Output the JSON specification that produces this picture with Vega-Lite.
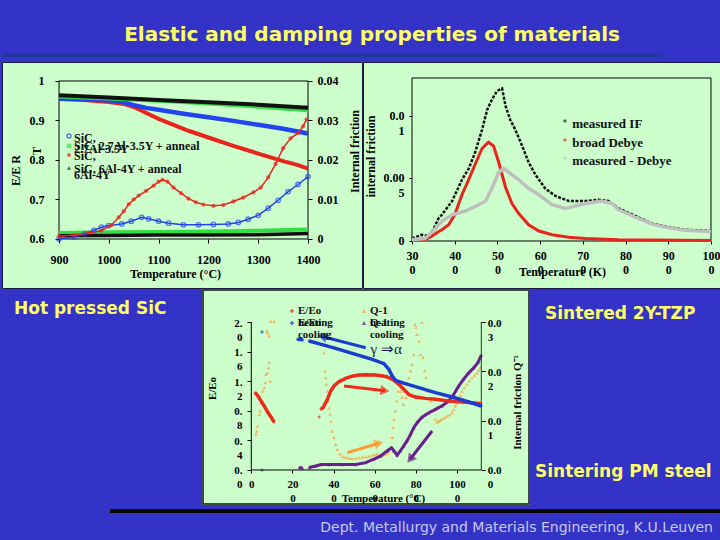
{
"$schema":"https://vega.github.io/schema/vega-lite/v6.json",
"background":"#3333c8",
"padding":0,
"spacing":0,
"config":{
 "view":{"stroke":null},
 "axis":{"grid":false,"domain":false,"labelFont":"Liberation Serif","titleFont":"Liberation Serif","labelFontWeight":"bold","titleFontWeight":"bold","labelColor":"#000","titleColor":"#000","tickColor":"#000","labelOverlap":false,"labelFlush":false},
 "text":{"font":"Liberation Serif","fontWeight":"bold","color":"#111"}
},
"datasets":{
 "p1E":[{"T":900,"s":"k","E":0.964},{"T":1000,"s":"k","E":0.958},{"T":1100,"s":"k","E":0.952},{"T":1200,"s":"k","E":0.946},{"T":1300,"s":"k","E":0.94},{"T":1400,"s":"k","E":0.932},
 {"T":900,"s":"g","E":0.961},{"T":1000,"s":"g","E":0.956},{"T":1100,"s":"g","E":0.95},{"T":1200,"s":"g","E":0.943},{"T":1300,"s":"g","E":0.935},{"T":1400,"s":"g","E":0.926},
 {"T":900,"s":"b","E":0.955},{"T":950,"s":"b","E":0.954},{"T":1000,"s":"b","E":0.951},{"T":1030,"s":"b","E":0.946},{"T":1050,"s":"b","E":0.939},{"T":1075,"s":"b","E":0.932},{"T":1100,"s":"b","E":0.927},{"T":1150,"s":"b","E":0.917},{"T":1200,"s":"b","E":0.908},{"T":1250,"s":"b","E":0.899},{"T":1300,"s":"b","E":0.889},{"T":1350,"s":"b","E":0.879},{"T":1400,"s":"b","E":0.867},
 {"T":900,"s":"r","E":0.955},{"T":950,"s":"r","E":0.952},{"T":1000,"s":"r","E":0.947},{"T":1030,"s":"r","E":0.942},{"T":1050,"s":"r","E":0.934},{"T":1070,"s":"r","E":0.922},{"T":1100,"s":"r","E":0.904},{"T":1130,"s":"r","E":0.889},{"T":1160,"s":"r","E":0.874},{"T":1200,"s":"r","E":0.857},{"T":1250,"s":"r","E":0.836},{"T":1300,"s":"r","E":0.816},{"T":1350,"s":"r","E":0.797},{"T":1380,"s":"r","E":0.787},{"T":1400,"s":"r","E":0.778}],
 "p1F":[{"T":900,"s":"r","F":0.0007},{"T":930,"s":"r","F":0.001},{"T":960,"s":"r","F":0.0016},{"T":985,"s":"r","F":0.0021},{"T":1005,"s":"r","F":0.0035},{"T":1020,"s":"r","F":0.0055},{"T":1030,"s":"r","F":0.007},{"T":1040,"s":"r","F":0.0088},{"T":1050,"s":"r","F":0.01},{"T":1060,"s":"r","F":0.011},{"T":1075,"s":"r","F":0.0122},{"T":1090,"s":"r","F":0.0135},{"T":1100,"s":"r","F":0.0145},{"T":1108,"s":"r","F":0.015},{"T":1118,"s":"r","F":0.0145},{"T":1130,"s":"r","F":0.013},{"T":1145,"s":"r","F":0.0116},{"T":1160,"s":"r","F":0.0102},{"T":1175,"s":"r","F":0.0093},{"T":1190,"s":"r","F":0.0087},{"T":1210,"s":"r","F":0.0084},{"T":1230,"s":"r","F":0.0086},{"T":1250,"s":"r","F":0.0095},{"T":1270,"s":"r","F":0.0105},{"T":1290,"s":"r","F":0.0118},{"T":1305,"s":"r","F":0.013},{"T":1320,"s":"r","F":0.0156},{"T":1335,"s":"r","F":0.019},{"T":1350,"s":"r","F":0.023},{"T":1365,"s":"r","F":0.0255},{"T":1380,"s":"r","F":0.0268},{"T":1390,"s":"r","F":0.0285},{"T":1397,"s":"r","F":0.0303},
 {"T":900,"s":"b","F":0.0},{"T":930,"s":"b","F":0.0005},{"T":952,"s":"b","F":0.0013},{"T":970,"s":"b","F":0.0022},{"T":985,"s":"b","F":0.003},{"T":1000,"s":"b","F":0.0034},{"T":1026,"s":"b","F":0.0038},{"T":1045,"s":"b","F":0.0045},{"T":1066,"s":"b","F":0.0055},{"T":1080,"s":"b","F":0.0051},{"T":1100,"s":"b","F":0.0045},{"T":1120,"s":"b","F":0.004},{"T":1150,"s":"b","F":0.0036},{"T":1180,"s":"b","F":0.0036},{"T":1210,"s":"b","F":0.0037},{"T":1240,"s":"b","F":0.0038},{"T":1260,"s":"b","F":0.0042},{"T":1280,"s":"b","F":0.005},{"T":1300,"s":"b","F":0.006},{"T":1320,"s":"b","F":0.0078},{"T":1340,"s":"b","F":0.0098},{"T":1360,"s":"b","F":0.012},{"T":1380,"s":"b","F":0.0138},{"T":1400,"s":"b","F":0.0158},
 {"T":900,"s":"g","F":0.0015},{"T":1000,"s":"g","F":0.0017},{"T":1100,"s":"g","F":0.0018},{"T":1200,"s":"g","F":0.0019},{"T":1300,"s":"g","F":0.0021},{"T":1400,"s":"g","F":0.0024},
 {"T":900,"s":"k","F":0.0008},{"T":1000,"s":"k","F":0.0009},{"T":1100,"s":"k","F":0.001},{"T":1200,"s":"k","F":0.001},{"T":1300,"s":"k","F":0.0011},{"T":1400,"s":"k","F":0.0014}],
 "p2":[{"K":300,"s":"m","IF":0.0002},{"K":323,"s":"m","IF":0.0005},{"K":340,"s":"m","IF":0.0004},{"K":350,"s":"m","IF":0.0009},{"K":362,"s":"m","IF":0.0018},{"K":370,"s":"m","IF":0.0021},{"K":394,"s":"m","IF":0.0032},{"K":417,"s":"m","IF":0.0049},{"K":433,"s":"m","IF":0.0058},{"K":448,"s":"m","IF":0.0071},{"K":464,"s":"m","IF":0.0089},{"K":476,"s":"m","IF":0.0105},{"K":487,"s":"m","IF":0.0113},{"K":499,"s":"m","IF":0.012},{"K":511,"s":"m","IF":0.0122},{"K":519,"s":"m","IF":0.0108},{"K":530,"s":"m","IF":0.0097},{"K":542,"s":"m","IF":0.0089},{"K":558,"s":"m","IF":0.0076},{"K":573,"s":"m","IF":0.0063},{"K":589,"s":"m","IF":0.0053},{"K":612,"s":"m","IF":0.0042},{"K":636,"s":"m","IF":0.0036},{"K":667,"s":"m","IF":0.0032},{"K":706,"s":"m","IF":0.0032},{"K":737,"s":"m","IF":0.0033},{"K":760,"s":"m","IF":0.0032},{"K":784,"s":"m","IF":0.0026},{"K":823,"s":"m","IF":0.002},{"K":862,"s":"m","IF":0.0014},{"K":901,"s":"m","IF":0.0011},{"K":940,"s":"m","IF":0.0009},{"K":1000,"s":"m","IF":0.0008},
 {"K":300,"s":"d","IF":0.0001},{"K":330,"s":"d","IF":0.0001},{"K":347,"s":"d","IF":0.0004},{"K":360,"s":"d","IF":0.0007},{"K":370,"s":"d","IF":0.0009},{"K":386,"s":"d","IF":0.0013},{"K":400,"s":"d","IF":0.0021},{"K":417,"s":"d","IF":0.0037},{"K":430,"s":"d","IF":0.0047},{"K":450,"s":"d","IF":0.0063},{"K":464,"s":"d","IF":0.0074},{"K":479,"s":"d","IF":0.0079},{"K":491,"s":"d","IF":0.0076},{"K":503,"s":"d","IF":0.0063},{"K":519,"s":"d","IF":0.0043},{"K":534,"s":"d","IF":0.003},{"K":550,"s":"d","IF":0.0022},{"K":573,"s":"d","IF":0.0013},{"K":597,"s":"d","IF":0.0008},{"K":628,"s":"d","IF":0.0005},{"K":667,"s":"d","IF":0.0003},{"K":706,"s":"d","IF":0.0002},{"K":784,"s":"d","IF":0.0001},{"K":1000,"s":"d","IF":0.00005},
 {"K":300,"s":"g","IF":0.0001},{"K":330,"s":"g","IF":0.0002},{"K":350,"s":"g","IF":0.0008},{"K":370,"s":"g","IF":0.0016},{"K":394,"s":"g","IF":0.0021},{"K":425,"s":"g","IF":0.0024},{"K":456,"s":"g","IF":0.0029},{"K":472,"s":"g","IF":0.0032},{"K":487,"s":"g","IF":0.0042},{"K":503,"s":"g","IF":0.0055},{"K":515,"s":"g","IF":0.0058},{"K":534,"s":"g","IF":0.0053},{"K":550,"s":"g","IF":0.0049},{"K":573,"s":"g","IF":0.0042},{"K":597,"s":"g","IF":0.0037},{"K":628,"s":"g","IF":0.0029},{"K":659,"s":"g","IF":0.0026},{"K":706,"s":"g","IF":0.003},{"K":745,"s":"g","IF":0.0032},{"K":768,"s":"g","IF":0.003},{"K":784,"s":"g","IF":0.0025},{"K":823,"s":"g","IF":0.0019},{"K":862,"s":"g","IF":0.00135},{"K":901,"s":"g","IF":0.00105},{"K":940,"s":"g","IF":0.00085},{"K":1000,"s":"g","IF":0.00075}],
 "p3E":[{"T":19,"s":"eh","seg":1,"E":1.045},{"T":35,"s":"eh","seg":1,"E":0.99},{"T":50,"s":"eh","seg":1,"E":0.92},{"T":63,"s":"eh","seg":1,"E":0.865},{"T":80,"s":"eh","seg":1,"E":0.78},{"T":95,"s":"eh","seg":1,"E":0.72},{"T":111,"s":"eh","seg":1,"E":0.649},
 {"T":330,"s":"eh","seg":3,"E":0.716},
 {"T":338,"s":"eh","seg":2,"E":0.82},{"T":349,"s":"eh","seg":2,"E":0.842},{"T":370,"s":"eh","seg":2,"E":0.955},{"T":386,"s":"eh","seg":2,"E":1.068},{"T":402,"s":"eh","seg":2,"E":1.135},{"T":426,"s":"eh","seg":2,"E":1.194},{"T":459,"s":"eh","seg":2,"E":1.239},{"T":490,"s":"eh","seg":2,"E":1.268},{"T":523,"s":"eh","seg":2,"E":1.284},{"T":560,"s":"eh","seg":2,"E":1.287},{"T":604,"s":"eh","seg":2,"E":1.284},{"T":640,"s":"eh","seg":2,"E":1.27},{"T":661,"s":"eh","seg":2,"E":1.257},{"T":693,"s":"eh","seg":2,"E":1.212},{"T":717,"s":"eh","seg":2,"E":1.158},{"T":741,"s":"eh","seg":2,"E":1.09},{"T":766,"s":"eh","seg":2,"E":1.02},{"T":798,"s":"eh","seg":2,"E":0.986},{"T":846,"s":"eh","seg":2,"E":0.968},{"T":895,"s":"eh","seg":2,"E":0.955},{"T":960,"s":"eh","seg":2,"E":0.932},{"T":1024,"s":"eh","seg":2,"E":0.919},{"T":1089,"s":"eh","seg":2,"E":0.905},{"T":1118,"s":"eh","seg":2,"E":0.896},
 {"T":52,"s":"ec","seg":1,"E":1.865},
 {"T":225,"s":"ec","seg":2,"E":1.766},{"T":250,"s":"ec","seg":2,"E":1.76},
 {"T":281,"s":"ec","seg":3,"E":1.743},{"T":345,"s":"ec","seg":3,"E":1.695},{"T":410,"s":"ec","seg":3,"E":1.644},{"T":507,"s":"ec","seg":3,"E":1.563},{"T":588,"s":"ec","seg":3,"E":1.495},{"T":645,"s":"ec","seg":3,"E":1.437},{"T":669,"s":"ec","seg":3,"E":1.36},{"T":685,"s":"ec","seg":3,"E":1.27},{"T":701,"s":"ec","seg":3,"E":1.212},{"T":733,"s":"ec","seg":3,"E":1.18},{"T":814,"s":"ec","seg":3,"E":1.113},{"T":895,"s":"ec","seg":3,"E":1.045},{"T":976,"s":"ec","seg":3,"E":0.986},{"T":1057,"s":"ec","seg":3,"E":0.919},{"T":1118,"s":"ec","seg":3,"E":0.865}],
 "p3Q":[{"T":23,"s":"qh","Q":0.0072},{"T":26,"s":"qh","Q":0.0079},{"T":31,"s":"qh","Q":0.0089},{"T":39,"s":"qh","Q":0.0113},{"T":42,"s":"qh","Q":0.012},{"T":47,"s":"qh","Q":0.0136},{"T":55,"s":"qh","Q":0.016},{"T":63,"s":"qh","Q":0.0167},{"T":68,"s":"qh","Q":0.0177},{"T":71,"s":"qh","Q":0.0194},{"T":79,"s":"qh","Q":0.0197},{"T":84,"s":"qh","Q":0.0207},{"T":87,"s":"qh","Q":0.0218},{"T":92,"s":"qh","Q":0.018},{"T":76,"s":"qh","Q":0.0282},{"T":79,"s":"qh","Q":0.0278},{"T":87,"s":"qh","Q":0.0272},{"T":95,"s":"qh","Q":0.0302},{"T":111,"s":"qh","Q":0.0302},
 {"T":354,"s":"qh","Q":0.0238},{"T":359,"s":"qh","Q":0.0201},{"T":362,"s":"qh","Q":0.0187},{"T":365,"s":"qh","Q":0.0174},{"T":370,"s":"qh","Q":0.016},{"T":375,"s":"qh","Q":0.014},{"T":378,"s":"qh","Q":0.0126},{"T":383,"s":"qh","Q":0.0113},{"T":388,"s":"qh","Q":0.0099},{"T":394,"s":"qh","Q":0.0079},{"T":402,"s":"qh","Q":0.0066},{"T":410,"s":"qh","Q":0.0052},{"T":418,"s":"qh","Q":0.0042},{"T":430,"s":"qh","Q":0.0033},{"T":443,"s":"qh","Q":0.0028},{"T":455,"s":"qh","Q":0.0026},{"T":467,"s":"qh","Q":0.0025},{"T":479,"s":"qh","Q":0.0024},{"T":491,"s":"qh","Q":0.0023},{"T":507,"s":"qh","Q":0.0024},{"T":523,"s":"qh","Q":0.0025},{"T":540,"s":"qh","Q":0.0026},{"T":556,"s":"qh","Q":0.0027},{"T":572,"s":"qh","Q":0.0028},{"T":588,"s":"qh","Q":0.003},{"T":600,"s":"qh","Q":0.0031},{"T":612,"s":"qh","Q":0.0032},{"T":624,"s":"qh","Q":0.0031},{"T":636,"s":"qh","Q":0.003},{"T":648,"s":"qh","Q":0.0031},{"T":661,"s":"qh","Q":0.0033},{"T":670,"s":"qh","Q":0.0038},{"T":677,"s":"qh","Q":0.0045},{"T":685,"s":"qh","Q":0.0066},{"T":690,"s":"qh","Q":0.0086},{"T":695,"s":"qh","Q":0.0103},{"T":701,"s":"qh","Q":0.012},{"T":708,"s":"qh","Q":0.014},{"T":714,"s":"qh","Q":0.016},{"T":721,"s":"qh","Q":0.0174},{"T":727,"s":"qh","Q":0.016},{"T":733,"s":"qh","Q":0.0147},{"T":740,"s":"qh","Q":0.0133},{"T":746,"s":"qh","Q":0.016},{"T":753,"s":"qh","Q":0.0147},{"T":759,"s":"qh","Q":0.0174},{"T":766,"s":"qh","Q":0.0187},{"T":774,"s":"qh","Q":0.0201},{"T":782,"s":"qh","Q":0.0214},{"T":790,"s":"qh","Q":0.0234},{"T":795,"s":"qh","Q":0.0295},{"T":801,"s":"qh","Q":0.0289},{"T":806,"s":"qh","Q":0.0275},{"T":814,"s":"qh","Q":0.0261},{"T":822,"s":"qh","Q":0.0234},{"T":830,"s":"qh","Q":0.0299},{"T":835,"s":"qh","Q":0.0228},{"T":843,"s":"qh","Q":0.0201},{"T":850,"s":"qh","Q":0.0187},{"T":859,"s":"qh","Q":0.016},{"T":871,"s":"qh","Q":0.014},{"T":882,"s":"qh","Q":0.012},{"T":895,"s":"qh","Q":0.0103},{"T":903,"s":"qh","Q":0.0097},{"T":911,"s":"qh","Q":0.0099},{"T":919,"s":"qh","Q":0.0101},{"T":927,"s":"qh","Q":0.0103},{"T":940,"s":"qh","Q":0.0106},{"T":952,"s":"qh","Q":0.0109},{"T":964,"s":"qh","Q":0.0112},{"T":976,"s":"qh","Q":0.0116},{"T":984,"s":"qh","Q":0.0122},{"T":992,"s":"qh","Q":0.013},{"T":1000,"s":"qh","Q":0.0136},{"T":1008,"s":"qh","Q":0.0143},{"T":1016,"s":"qh","Q":0.0151},{"T":1024,"s":"qh","Q":0.016},{"T":1036,"s":"qh","Q":0.0167},{"T":1048,"s":"qh","Q":0.0174},{"T":1060,"s":"qh","Q":0.0181},{"T":1073,"s":"qh","Q":0.0187},{"T":1085,"s":"qh","Q":0.0192},{"T":1097,"s":"qh","Q":0.0197},{"T":1105,"s":"qh","Q":0.0202},{"T":1113,"s":"qh","Q":0.0207},
 {"T":52,"s":"qc","seg":1,"Q":0.0001},{"T":233,"s":"qc","seg":2,"Q":0.0005},{"T":249,"s":"qc","seg":2,"Q":0.0004},
 {"T":281,"s":"qc","seg":3,"Q":0.0005},{"T":313,"s":"qc","seg":3,"Q":0.0008},{"T":338,"s":"qc","seg":3,"Q":0.0011},{"T":378,"s":"qc","seg":3,"Q":0.0011},{"T":443,"s":"qc","seg":3,"Q":0.0011},{"T":507,"s":"qc","seg":3,"Q":0.0011},{"T":556,"s":"qc","seg":3,"Q":0.0015},{"T":596,"s":"qc","seg":3,"Q":0.0022},{"T":628,"s":"qc","seg":3,"Q":0.0028},{"T":661,"s":"qc","seg":3,"Q":0.0039},{"T":682,"s":"qc","seg":3,"Q":0.0045},{"T":693,"s":"qc","seg":3,"Q":0.0039},{"T":709,"s":"qc","seg":3,"Q":0.003},{"T":725,"s":"qc","seg":3,"Q":0.0039},{"T":741,"s":"qc","seg":3,"Q":0.0049},{"T":757,"s":"qc","seg":3,"Q":0.0059},{"T":774,"s":"qc","seg":3,"Q":0.0072},{"T":790,"s":"qc","seg":3,"Q":0.0086},{"T":806,"s":"qc","seg":3,"Q":0.0096},{"T":830,"s":"qc","seg":3,"Q":0.0107},{"T":863,"s":"qc","seg":3,"Q":0.0116},{"T":895,"s":"qc","seg":3,"Q":0.0123},{"T":927,"s":"qc","seg":3,"Q":0.013},{"T":960,"s":"qc","seg":3,"Q":0.014},{"T":984,"s":"qc","seg":3,"Q":0.0153},{"T":1008,"s":"qc","seg":3,"Q":0.017},{"T":1032,"s":"qc","seg":3,"Q":0.0184},{"T":1057,"s":"qc","seg":3,"Q":0.0197},{"T":1081,"s":"qc","seg":3,"Q":0.0207},{"T":1102,"s":"qc","seg":3,"Q":0.0218},{"T":1118,"s":"qc","seg":3,"Q":0.0233}]
},
"vconcat":[
 {"width":720,"height":61,
  "layer":[
   {"data":{"values":[{}]},"mark":{"type":"rule","stroke":"#1e3a9e","strokeWidth":4},
    "encoding":{"x":{"datum":0,"type":"quantitative","scale":{"domain":[0,1],"nice":false,"zero":false},"axis":null},"x2":{"datum":0.917},"y":{"datum":0.098,"type":"quantitative","scale":{"domain":[0,1],"nice":false,"zero":false},"axis":null}}},
   {"data":{"values":[{"label":"Elastic and damping properties of materials"}]},"mark":{"type":"text","font":"DejaVu Sans","fontWeight":"bold","fontSize":20,"color":"#ffff66","align":"center","baseline":"middle"},
    "encoding":{"text":{"field":"label"},"x":{"datum":0.514,"type":"quantitative","scale":{"domain":[0,1],"nice":false,"zero":false},"axis":null},"y":{"datum":0.426,"type":"quantitative","scale":{"domain":[0,1],"nice":false,"zero":false},"axis":null}}}
  ]},
 {"hconcat":[
  {"width":361,"height":227,
   "view":{"fill":"#ccffcc"},
   "layer":[
    {"layer":[
     {"data":{"values":[{}]},"mark":{"type":"rect","filled":false,"stroke":"#000","strokeWidth":1},
      "encoding":{"x":{"datum":900,"type":"quantitative","scale":{"domain":[785.5,1510.4],"nice":false,"zero":false},
        "axis":{"orient":"bottom","offset":-50,"values":[900,1000,1100,1200,1300,1400],"format":"d","tickSize":4,"labelPadding":16,"labelBaseline":"middle","labelFontSize":12,"title":"Temperature (°C)","titleFontSize":12,"titleX":173,"titleY":34,"titleBaseline":"middle","titleAlign":"center"}},
       "x2":{"datum":1400},
       "y":{"datum":0.6,"type":"quantitative","scale":{"domain":[0.4734,1.0481],"nice":false,"zero":false},
        "axis":{"orient":"left","offset":-57,"values":[0.6,0.7,0.8,0.9,1],"labelExpr":"datum.value==1?'1':format(datum.value,'.1f')","tickSize":4,"labelPadding":11,"labelFontSize":12,"title":"E/E  R","titleFontSize":12,"titleX":-44,"titleY":108,"titleAngle":270,"titleBaseline":"middle","titleAlign":"center"}},
       "y2":{"datum":1}}},
     {"data":{"values":[{}]},"mark":{"type":"rect","filled":false,"stroke":"#1a1a40","strokeWidth":1},
      "encoding":{"x":{"datum":786.5,"type":"quantitative","scale":{"domain":[785.5,1510.4],"nice":false,"zero":false}},"x2":{"datum":1509.4},"y":{"datum":0.4747,"type":"quantitative","scale":{"domain":[0.4734,1.0481],"nice":false,"zero":false}},"y2":{"datum":1.0468}}},
     {"data":{"name":"p1E"},"transform":[{"filter":"datum.s=='r'"}],"mark":{"type":"line","color":"#e8251c","strokeWidth":4},
      "encoding":{"x":{"field":"T","type":"quantitative","scale":{"domain":[785.5,1510.4],"nice":false,"zero":false}},"y":{"field":"E","type":"quantitative","scale":{"domain":[0.4734,1.0481],"nice":false,"zero":false}}}},
     {"data":{"name":"p1E"},"transform":[{"filter":"datum.s=='b'"}],"mark":{"type":"line","color":"#2244ee","strokeWidth":4.5},
      "encoding":{"x":{"field":"T","type":"quantitative","scale":{"domain":[785.5,1510.4],"nice":false,"zero":false}},"y":{"field":"E","type":"quantitative","scale":{"domain":[0.4734,1.0481],"nice":false,"zero":false}}}},
     {"data":{"name":"p1E"},"transform":[{"filter":"datum.s=='g'"}],"mark":{"type":"line","color":"#33dd44","strokeWidth":4},
      "encoding":{"x":{"field":"T","type":"quantitative","scale":{"domain":[785.5,1510.4],"nice":false,"zero":false}},"y":{"field":"E","type":"quantitative","scale":{"domain":[0.4734,1.0481],"nice":false,"zero":false}}}},
     {"data":{"name":"p1E"},"transform":[{"filter":"datum.s=='k'"}],"mark":{"type":"line","color":"#111111","strokeWidth":4},
      "encoding":{"x":{"field":"T","type":"quantitative","scale":{"domain":[785.5,1510.4],"nice":false,"zero":false}},"y":{"field":"E","type":"quantitative","scale":{"domain":[0.4734,1.0481],"nice":false,"zero":false}}}},
     {"data":{"values":[{}]},"mark":{"type":"point","shape":"circle","filled":false,"color":"#2244ee","size":16,"strokeWidth":1.5},
      "encoding":{"x":{"datum":920,"type":"quantitative","scale":{"domain":[785.5,1510.4],"nice":false,"zero":false}},"y":{"datum":0.8608,"type":"quantitative","scale":{"domain":[0.4734,1.0481],"nice":false,"zero":false}}}},
     {"data":{"values":[{}]},"mark":{"type":"point","shape":"cross","angle":45,"filled":true,"color":"#33dd44","size":30},
      "encoding":{"x":{"datum":920,"type":"quantitative","scale":{"domain":[785.5,1510.4],"nice":false,"zero":false}},"y":{"datum":0.8354,"type":"quantitative","scale":{"domain":[0.4734,1.0481],"nice":false,"zero":false}}}},
     {"data":{"values":[{}]},"mark":{"type":"point","shape":"circle","filled":true,"color":"#e8251c","size":16},
      "encoding":{"x":{"datum":920,"type":"quantitative","scale":{"domain":[785.5,1510.4],"nice":false,"zero":false}},"y":{"datum":0.8127,"type":"quantitative","scale":{"domain":[0.4734,1.0481],"nice":false,"zero":false}}}},
     {"data":{"values":[{}]},"mark":{"type":"point","shape":"triangle-up","filled":true,"color":"#111","size":16},
      "encoding":{"x":{"datum":920,"type":"quantitative","scale":{"domain":[785.5,1510.4],"nice":false,"zero":false}},"y":{"datum":0.7797,"type":"quantitative","scale":{"domain":[0.4734,1.0481],"nice":false,"zero":false}}}},
     {"data":{"values":[{"label":"SiC,"}]},"mark":{"type":"text","align":"left","baseline":"middle","fontSize":12},
      "encoding":{"text":{"field":"label"},"x":{"datum":930,"type":"quantitative","scale":{"domain":[785.5,1510.4],"nice":false,"zero":false}},"y":{"datum":0.8557,"type":"quantitative","scale":{"domain":[0.4734,1.0481],"nice":false,"zero":false}}}},
     {"data":{"values":[{"label":"SiC, 2.7Al-3.5Y + anneal"}]},"mark":{"type":"text","align":"left","baseline":"middle","fontSize":12},
      "encoding":{"text":{"field":"label"},"x":{"datum":930,"type":"quantitative","scale":{"domain":[785.5,1510.4],"nice":false,"zero":false}},"y":{"datum":0.8354,"type":"quantitative","scale":{"domain":[0.4734,1.0481],"nice":false,"zero":false}}}},
     {"data":{"values":[{"label":"2.7Al-3.5Y"}]},"mark":{"type":"text","align":"left","baseline":"middle","fontSize":12},
      "encoding":{"text":{"field":"label"},"x":{"datum":930,"type":"quantitative","scale":{"domain":[785.5,1510.4],"nice":false,"zero":false}},"y":{"datum":0.8278,"type":"quantitative","scale":{"domain":[0.4734,1.0481],"nice":false,"zero":false}}}},
     {"data":{"values":[{"label":"SiC,"}]},"mark":{"type":"text","align":"left","baseline":"middle","fontSize":12},
      "encoding":{"text":{"field":"label"},"x":{"datum":930,"type":"quantitative","scale":{"domain":[785.5,1510.4],"nice":false,"zero":false}},"y":{"datum":0.8101,"type":"quantitative","scale":{"domain":[0.4734,1.0481],"nice":false,"zero":false}}}},
     {"data":{"values":[{"label":"SiC, 6Al-4Y + anneal"}]},"mark":{"type":"text","align":"left","baseline":"middle","fontSize":12},
      "encoding":{"text":{"field":"label"},"x":{"datum":930,"type":"quantitative","scale":{"domain":[785.5,1510.4],"nice":false,"zero":false}},"y":{"datum":0.7772,"type":"quantitative","scale":{"domain":[0.4734,1.0481],"nice":false,"zero":false}}}},
     {"data":{"values":[{"label":"6Al-4Y"}]},"mark":{"type":"text","align":"left","baseline":"middle","fontSize":12},
      "encoding":{"text":{"field":"label"},"x":{"datum":930,"type":"quantitative","scale":{"domain":[785.5,1510.4],"nice":false,"zero":false}},"y":{"datum":0.762,"type":"quantitative","scale":{"domain":[0.4734,1.0481],"nice":false,"zero":false}}}},
     {"data":{"values":[{"label":"T"}]},"mark":{"type":"text","align":"center","baseline":"middle","fontSize":12,"angle":270},
      "encoding":{"text":{"field":"label"},"x":{"datum":855.8,"type":"quantitative","scale":{"domain":[785.5,1510.4],"nice":false,"zero":false}},"y":{"datum":0.8228,"type":"quantitative","scale":{"domain":[0.4734,1.0481],"nice":false,"zero":false}}}}
    ]},
    {"layer":[
     {"data":{"name":"p1F"},"transform":[{"filter":"datum.s=='g'"}],"mark":{"type":"line","color":"#33dd44","strokeWidth":4},
      "encoding":{"x":{"field":"T","type":"quantitative","scale":{"domain":[785.5,1510.4],"nice":false,"zero":false}},
       "y":{"field":"F","type":"quantitative","scale":{"domain":[-0.01266,0.04481],"nice":false,"zero":false},
        "axis":{"orient":"right","offset":-55,"values":[0,0.01,0.02,0.03,0.04],"labelExpr":"datum.value==0?'0':format(datum.value,'.2f')","tickSize":4,"labelPadding":5,"labelFontSize":12,"title":"Internal friction","titleFontSize":12,"titleX":46,"titleY":89,"titleAngle":270,"titleBaseline":"middle","titleAlign":"center"}}}},
     {"data":{"name":"p1F"},"transform":[{"filter":"datum.s=='k'"}],"mark":{"type":"line","color":"#111111","strokeWidth":3.5},
      "encoding":{"x":{"field":"T","type":"quantitative","scale":{"domain":[785.5,1510.4],"nice":false,"zero":false}},"y":{"field":"F","type":"quantitative","scale":{"domain":[-0.01266,0.04481],"nice":false,"zero":false}}}},
     {"data":{"name":"p1F"},"transform":[{"filter":"datum.s=='b'"}],"mark":{"type":"line","color":"#2244ee","strokeWidth":1.5},
      "encoding":{"x":{"field":"T","type":"quantitative","scale":{"domain":[785.5,1510.4],"nice":false,"zero":false}},"y":{"field":"F","type":"quantitative","scale":{"domain":[-0.01266,0.04481],"nice":false,"zero":false}}}},
     {"data":{"name":"p1F"},"transform":[{"filter":"datum.s=='b'"}],"mark":{"type":"point","shape":"circle","filled":false,"color":"#2244ee","size":20,"strokeWidth":1.3},
      "encoding":{"x":{"field":"T","type":"quantitative","scale":{"domain":[785.5,1510.4],"nice":false,"zero":false}},"y":{"field":"F","type":"quantitative","scale":{"domain":[-0.01266,0.04481],"nice":false,"zero":false}}}},
     {"data":{"name":"p1F"},"transform":[{"filter":"datum.s=='r'"}],"mark":{"type":"line","color":"#e8251c","strokeWidth":1.5},
      "encoding":{"x":{"field":"T","type":"quantitative","scale":{"domain":[785.5,1510.4],"nice":false,"zero":false}},"y":{"field":"F","type":"quantitative","scale":{"domain":[-0.01266,0.04481],"nice":false,"zero":false}}}},
     {"data":{"name":"p1F"},"transform":[{"filter":"datum.s=='r'"}],"mark":{"type":"point","shape":"circle","filled":true,"color":"#e8251c","size":18},
      "encoding":{"x":{"field":"T","type":"quantitative","scale":{"domain":[785.5,1510.4],"nice":false,"zero":false}},"y":{"field":"F","type":"quantitative","scale":{"domain":[-0.01266,0.04481],"nice":false,"zero":false}}}}
    ]}
   ],
   "resolve":{"scale":{"y":"independent"}}
  },
  {"width":359,"height":227,
   "view":{"fill":"#ccffcc"},
   "layer":[
    {"data":{"values":[{}]},"mark":{"type":"rect","filled":false,"stroke":"#000","strokeWidth":1},
     "encoding":{"x":{"datum":300,"type":"quantitative","scale":{"domain":[185.3,1025.8],"nice":false,"zero":false},
       "axis":{"orient":"bottom","offset":-48,"values":[300,400,500,600,700,800,900,1000],"labelExpr":"[format(datum.value/10,'d'),'0']","tickSize":3,"labelPadding":6,"labelBaseline":"top","labelLineHeight":14,"labelFontSize":12,"title":"Temperature (K)","titleFontSize":12,"titleX":199,"titleY":30,"titleBaseline":"middle","titleAlign":"center"}},
      "x2":{"datum":1000},
      "y":{"datum":0,"type":"quantitative","scale":{"domain":[-0.00384,0.01432],"nice":false,"zero":false},
       "axis":{"orient":"left","offset":-49,"values":[0,0.005,0.01],"labelExpr":"datum.value==0?'0':(datum.value<0.007?['0.00','5']:['0.0','1'])","tickSize":3,"labelPadding":5,"labelBaseline":"top","labelOffset":-6,"labelLineHeight":15,"labelFontSize":12,"title":"internal friction","titleFontSize":12,"titleX":-42,"titleY":94,"titleAngle":270,"titleBaseline":"middle","titleAlign":"center"}},
      "y2":{"datum":0.01304}}},
    {"data":{"values":[{}]},"mark":{"type":"rect","filled":false,"stroke":"#1a1a40","strokeWidth":1},
     "encoding":{"x":{"datum":186.5,"type":"quantitative","scale":{"domain":[185.3,1025.8],"nice":false,"zero":false}},"x2":{"datum":1024.6},"y":{"datum":-0.0038,"type":"quantitative","scale":{"domain":[-0.00384,0.01432],"nice":false,"zero":false}},"y2":{"datum":0.01428}}},
    {"data":{"name":"p2"},"transform":[{"filter":"datum.s=='m'"}],"mark":{"type":"line","color":"#111111","strokeWidth":2.5,"strokeDash":[3,1.5]},
     "encoding":{"x":{"field":"K","type":"quantitative","scale":{"domain":[185.3,1025.8],"nice":false,"zero":false}},"y":{"field":"IF","type":"quantitative","scale":{"domain":[-0.00384,0.01432],"nice":false,"zero":false}}}},
    {"data":{"name":"p2"},"transform":[{"filter":"datum.s=='d'"}],"mark":{"type":"line","color":"#e8251c","strokeWidth":3},
     "encoding":{"x":{"field":"K","type":"quantitative","scale":{"domain":[185.3,1025.8],"nice":false,"zero":false}},"y":{"field":"IF","type":"quantitative","scale":{"domain":[-0.00384,0.01432],"nice":false,"zero":false}}}},
    {"data":{"name":"p2"},"transform":[{"filter":"datum.s=='g'"}],"mark":{"type":"line","color":"#bfbfbf","strokeWidth":3.5},
     "encoding":{"x":{"field":"K","type":"quantitative","scale":{"domain":[185.3,1025.8],"nice":false,"zero":false}},"y":{"field":"IF","type":"quantitative","scale":{"domain":[-0.00384,0.01432],"nice":false,"zero":false}}}},
    {"data":{"values":[{}]},"mark":{"type":"point","shape":"square","filled":true,"color":"#111","size":8},
     "encoding":{"x":{"datum":658,"type":"quantitative","scale":{"domain":[185.3,1025.8],"nice":false,"zero":false}},"y":{"datum":0.0096,"type":"quantitative","scale":{"domain":[-0.00384,0.01432],"nice":false,"zero":false}}}},
    {"data":{"values":[{}]},"mark":{"type":"point","shape":"square","filled":true,"color":"#e8251c","size":8},
     "encoding":{"x":{"datum":658,"type":"quantitative","scale":{"domain":[185.3,1025.8],"nice":false,"zero":false}},"y":{"datum":0.00808,"type":"quantitative","scale":{"domain":[-0.00384,0.01432],"nice":false,"zero":false}}}},
    {"data":{"values":[{}]},"mark":{"type":"point","shape":"square","filled":true,"color":"#bfbfbf","size":8},
     "encoding":{"x":{"datum":658,"type":"quantitative","scale":{"domain":[185.3,1025.8],"nice":false,"zero":false}},"y":{"datum":0.00664,"type":"quantitative","scale":{"domain":[-0.00384,0.01432],"nice":false,"zero":false}}}},
    {"data":{"values":[{"label":"measured IF"}]},"mark":{"type":"text","align":"left","baseline":"middle","fontSize":13},
     "encoding":{"text":{"field":"label"},"x":{"datum":675,"type":"quantitative","scale":{"domain":[185.3,1025.8],"nice":false,"zero":false}},"y":{"datum":0.00936,"type":"quantitative","scale":{"domain":[-0.00384,0.01432],"nice":false,"zero":false}}}},
    {"data":{"values":[{"label":"broad Debye"}]},"mark":{"type":"text","align":"left","baseline":"middle","fontSize":13},
     "encoding":{"text":{"field":"label"},"x":{"datum":675,"type":"quantitative","scale":{"domain":[185.3,1025.8],"nice":false,"zero":false}},"y":{"datum":0.00784,"type":"quantitative","scale":{"domain":[-0.00384,0.01432],"nice":false,"zero":false}}}},
    {"data":{"values":[{"label":"measured - Debye"}]},"mark":{"type":"text","align":"left","baseline":"middle","fontSize":13},
     "encoding":{"text":{"field":"label"},"x":{"datum":675,"type":"quantitative","scale":{"domain":[185.3,1025.8],"nice":false,"zero":false}},"y":{"datum":0.0064,"type":"quantitative","scale":{"domain":[-0.00384,0.01432],"nice":false,"zero":false}}}}
   ]}
 ],"spacing":0,"bounds":"flush"},
 {"hconcat":[
  {"width":200,"height":216,
   "data":{"values":[{"label":"Hot pressed SiC"}]},
   "mark":{"type":"text","font":"DejaVu Sans","fontWeight":"bold","fontSize":17,"color":"#ffff66","align":"left","baseline":"middle"},
   "encoding":{"text":{"field":"label"},"x":{"datum":0.06,"type":"quantitative","scale":{"domain":[0,1],"nice":false,"zero":false},"axis":null},"y":{"datum":0.907,"type":"quantitative","scale":{"domain":[0,1],"nice":false,"zero":false},"axis":null}}},
  {"width":328,"height":216,
   "view":{"fill":"#ccffcc"},
   "layer":[
    {"layer":[
     {"data":{"name":"p3Q"},"transform":[{"filter":"datum.s=='qh'"}],"mark":{"type":"point","shape":"triangle-up","filled":true,"color":"#ff9933","size":14},
      "encoding":{"x":{"field":"T","type":"quantitative","scale":{"domain":[-239.6,1354.8],"nice":false,"zero":false}},
       "y":{"field":"Q","type":"quantitative","scale":{"domain":[-0.007095,0.03669],"nice":false,"zero":false},
        "axis":{"orient":"right","offset":-48.7,"values":[0,0.01,0.02,0.03],"labelExpr":"[substring(format(datum.value,'.2f'),0,3),substring(format(datum.value,'.2f'),3,4)]","tickSize":4,"labelPadding":2,"labelBaseline":"top","labelOffset":-5,"labelLineHeight":14,"labelFontSize":11,"title":"Internal friction  Q⁻¹","titleFontSize":11,"titleX":36,"titleY":113,"titleAngle":270,"titleBaseline":"middle","titleAlign":"center"}}}},
     {"data":{"name":"p3Q"},"transform":[{"filter":"datum.s=='qc'"}],"mark":{"type":"line","color":"#6b1f8f","strokeWidth":3},
      "encoding":{"detail":{"field":"seg"},"x":{"field":"T","type":"quantitative","scale":{"domain":[-239.6,1354.8],"nice":false,"zero":false}},"y":{"field":"Q","type":"quantitative","scale":{"domain":[-0.007095,0.03669],"nice":false,"zero":false}}}},
     {"data":{"name":"p3Q"},"transform":[{"filter":"datum.s=='qc'"}],"mark":{"type":"point","shape":"triangle-up","filled":true,"color":"#6b1f8f","size":14},
      "encoding":{"x":{"field":"T","type":"quantitative","scale":{"domain":[-239.6,1354.8],"nice":false,"zero":false}},"y":{"field":"Q","type":"quantitative","scale":{"domain":[-0.007095,0.03669],"nice":false,"zero":false}}}}
    ]},
    {"layer":[
     {"data":{"values":[{}]},"mark":{"type":"rule","color":"#000","strokeWidth":1},
      "encoding":{"x":{"datum":0,"type":"quantitative","scale":{"domain":[-239.6,1354.8],"nice":false,"zero":false},
        "axis":{"orient":"bottom","offset":-35,"values":[0,200,400,600,800,1000],"labelExpr":"datum.value==0?'0':[format(datum.value/10,'d'),'0']","tickSize":3,"labelPadding":5,"labelBaseline":"top","labelLineHeight":14,"labelFontSize":11,"title":"Temperature (°C)","titleFontSize":11,"titleX":181,"titleY":28,"titleBaseline":"middle","titleAlign":"center"}},
       "y":{"datum":0,"type":"quantitative","scale":{"domain":[-0.473,2.446],"nice":false,"zero":false},
        "axis":{"orient":"left","offset":-49,"values":[0,0.4,0.8,1.2,1.6,2],"labelExpr":"[substring(format(datum.value,'.1f'),0,2),substring(format(datum.value,'.1f'),2,3)]","tickSize":4,"labelPadding":5,"labelBaseline":"top","labelOffset":-5,"labelLineHeight":14,"labelFontSize":11,"title":"E/Eo","titleFontSize":11,"titleX":-39,"titleY":99,"titleAngle":270,"titleBaseline":"middle","titleAlign":"center"}},
       "y2":{"datum":2}}},
     {"data":{"values":[{}]},"mark":{"type":"rect","filled":false,"stroke":"#111","strokeWidth":1.5},
      "encoding":{"x":{"datum":-234.7,"type":"quantitative","scale":{"domain":[-239.6,1354.8],"nice":false,"zero":false}},"x2":{"datum":1349.9},"y":{"datum":-0.459,"type":"quantitative","scale":{"domain":[-0.473,2.446],"nice":false,"zero":false}},"y2":{"datum":2.432}}},
     {"data":{"values":[{}]},"mark":{"type":"rule","color":"#1a3a1a","strokeWidth":1},
      "encoding":{"x":{"datum":1118,"type":"quantitative","scale":{"domain":[-239.6,1354.8],"nice":false,"zero":false}},"y":{"datum":0,"type":"quantitative","scale":{"domain":[-0.473,2.446],"nice":false,"zero":false}},"y2":{"datum":2}}},
     {"data":{"values":[{}]},"mark":{"type":"rule","color":"#000","strokeWidth":1},
      "encoding":{"x":{"datum":0,"type":"quantitative","scale":{"domain":[-239.6,1354.8],"nice":false,"zero":false}},"x2":{"datum":1118},"y":{"datum":0,"type":"quantitative","scale":{"domain":[-0.473,2.446],"nice":false,"zero":false}}}},
     {"data":{"name":"p3E"},"transform":[{"filter":"datum.s=='eh'"}],"mark":{"type":"line","color":"#ee2a1a","strokeWidth":3.5},
      "encoding":{"detail":{"field":"seg"},"x":{"field":"T","type":"quantitative","scale":{"domain":[-239.6,1354.8],"nice":false,"zero":false}},"y":{"field":"E","type":"quantitative","scale":{"domain":[-0.473,2.446],"nice":false,"zero":false}}}},
     {"data":{"name":"p3E"},"transform":[{"filter":"datum.s=='eh'"}],"mark":{"type":"point","shape":"diamond","filled":true,"color":"#ee2a1a","size":12},
      "encoding":{"x":{"field":"T","type":"quantitative","scale":{"domain":[-239.6,1354.8],"nice":false,"zero":false}},"y":{"field":"E","type":"quantitative","scale":{"domain":[-0.473,2.446],"nice":false,"zero":false}}}},
     {"data":{"name":"p3E"},"transform":[{"filter":"datum.s=='ec'"}],"mark":{"type":"line","color":"#1a3ccf","strokeWidth":3.5},
      "encoding":{"detail":{"field":"seg"},"x":{"field":"T","type":"quantitative","scale":{"domain":[-239.6,1354.8],"nice":false,"zero":false}},"y":{"field":"E","type":"quantitative","scale":{"domain":[-0.473,2.446],"nice":false,"zero":false}}}},
     {"data":{"name":"p3E"},"transform":[{"filter":"datum.s=='ec'"}],"mark":{"type":"point","shape":"diamond","filled":true,"color":"#1a3ccf","size":14},
      "encoding":{"x":{"field":"T","type":"quantitative","scale":{"domain":[-239.6,1354.8],"nice":false,"zero":false}},"y":{"field":"E","type":"quantitative","scale":{"domain":[-0.473,2.446],"nice":false,"zero":false}}}},
     {"data":{"values":[{}]},"mark":{"type":"rule","color":"#1a3ccf","strokeWidth":3},
      "encoding":{"x":{"datum":556,"type":"quantitative","scale":{"domain":[-239.6,1354.8],"nice":false,"zero":false}},"x2":{"datum":345},"y":{"datum":1.653,"type":"quantitative","scale":{"domain":[-0.473,2.446],"nice":false,"zero":false}},"y2":{"datum":1.805}}},
     {"data":{"values":[{}]},"mark":{"type":"point","shape":"triangle-up","filled":true,"color":"#1a3ccf","size":110,"angle":285},
      "encoding":{"x":{"datum":345,"type":"quantitative","scale":{"domain":[-239.6,1354.8],"nice":false,"zero":false}},"y":{"datum":1.805,"type":"quantitative","scale":{"domain":[-0.473,2.446],"nice":false,"zero":false}}}},
     {"data":{"values":[{}]},"mark":{"type":"rule","color":"#ee2a1a","strokeWidth":3},
      "encoding":{"x":{"datum":451,"type":"quantitative","scale":{"domain":[-239.6,1354.8],"nice":false,"zero":false}},"x2":{"datum":650},"y":{"datum":1.135,"type":"quantitative","scale":{"domain":[-0.473,2.446],"nice":false,"zero":false}},"y2":{"datum":1.072}}},
     {"data":{"values":[{}]},"mark":{"type":"point","shape":"triangle-up","filled":true,"color":"#ee2a1a","size":110,"angle":97},
      "encoding":{"x":{"datum":650,"type":"quantitative","scale":{"domain":[-239.6,1354.8],"nice":false,"zero":false}},"y":{"datum":1.072,"type":"quantitative","scale":{"domain":[-0.473,2.446],"nice":false,"zero":false}}}},
     {"data":{"values":[{}]},"mark":{"type":"rule","color":"#ff9933","strokeWidth":3},
      "encoding":{"x":{"datum":467,"type":"quantitative","scale":{"domain":[-239.6,1354.8],"nice":false,"zero":false}},"x2":{"datum":620},"y":{"datum":0.234,"type":"quantitative","scale":{"domain":[-0.473,2.446],"nice":false,"zero":false}},"y2":{"datum":0.362}}},
     {"data":{"values":[{}]},"mark":{"type":"point","shape":"triangle-up","filled":true,"color":"#ff9933","size":110,"angle":73},
      "encoding":{"x":{"datum":620,"type":"quantitative","scale":{"domain":[-239.6,1354.8],"nice":false,"zero":false}},"y":{"datum":0.362,"type":"quantitative","scale":{"domain":[-0.473,2.446],"nice":false,"zero":false}}}},
     {"data":{"values":[{}]},"mark":{"type":"rule","color":"#6b1f8f","strokeWidth":3},
      "encoding":{"x":{"datum":879,"type":"quantitative","scale":{"domain":[-239.6,1354.8],"nice":false,"zero":false}},"x2":{"datum":772},"y":{"datum":0.527,"type":"quantitative","scale":{"domain":[-0.473,2.446],"nice":false,"zero":false}},"y2":{"datum":0.145}}},
     {"data":{"values":[{}]},"mark":{"type":"point","shape":"triangle-up","filled":true,"color":"#6b1f8f","size":110,"angle":218},
      "encoding":{"x":{"datum":772,"type":"quantitative","scale":{"domain":[-239.6,1354.8],"nice":false,"zero":false}},"y":{"datum":0.145,"type":"quantitative","scale":{"domain":[-0.473,2.446],"nice":false,"zero":false}}}},
     {"data":{"values":[{"label":"γ ⇒α"}]},"mark":{"type":"text","align":"left","baseline":"middle","fontSize":15,"color":"#15154a","fontWeight":"normal"},
      "encoding":{"text":{"field":"label"},"x":{"datum":580,"type":"quantitative","scale":{"domain":[-239.6,1354.8],"nice":false,"zero":false}},"y":{"datum":1.63,"type":"quantitative","scale":{"domain":[-0.473,2.446],"nice":false,"zero":false}}}},
     {"data":{"values":[{}]},"mark":{"type":"point","shape":"diamond","filled":true,"color":"#ee2a1a","size":22},
      "encoding":{"x":{"datum":198,"type":"quantitative","scale":{"domain":[-239.6,1354.8],"nice":false,"zero":false}},"y":{"datum":2.149,"type":"quantitative","scale":{"domain":[-0.473,2.446],"nice":false,"zero":false}}}},
     {"data":{"values":[{}]},"mark":{"type":"point","shape":"diamond","filled":true,"color":"#1a3ccf","size":22},
      "encoding":{"x":{"datum":198,"type":"quantitative","scale":{"domain":[-239.6,1354.8],"nice":false,"zero":false}},"y":{"datum":1.986,"type":"quantitative","scale":{"domain":[-0.473,2.446],"nice":false,"zero":false}}}},
     {"data":{"values":[{}]},"mark":{"type":"point","shape":"triangle-up","filled":true,"color":"#ff9933","size":22},
      "encoding":{"x":{"datum":548,"type":"quantitative","scale":{"domain":[-239.6,1354.8],"nice":false,"zero":false}},"y":{"datum":2.149,"type":"quantitative","scale":{"domain":[-0.473,2.446],"nice":false,"zero":false}}}},
     {"data":{"values":[{}]},"mark":{"type":"point","shape":"triangle-up","filled":true,"color":"#6b1f8f","size":22},
      "encoding":{"x":{"datum":548,"type":"quantitative","scale":{"domain":[-239.6,1354.8],"nice":false,"zero":false}},"y":{"datum":1.986,"type":"quantitative","scale":{"domain":[-0.473,2.446],"nice":false,"zero":false}}}},
     {"data":{"values":[{"label":"E/Eo"}]},"mark":{"type":"text","align":"left","baseline":"middle","fontSize":11},
      "encoding":{"text":{"field":"label"},"x":{"datum":227,"type":"quantitative","scale":{"domain":[-239.6,1354.8],"nice":false,"zero":false}},"y":{"datum":2.149,"type":"quantitative","scale":{"domain":[-0.473,2.446],"nice":false,"zero":false}}}},
     {"data":{"values":[{"label":"heating"}]},"mark":{"type":"text","align":"left","baseline":"middle","fontSize":11},
      "encoding":{"text":{"field":"label"},"x":{"datum":227,"type":"quantitative","scale":{"domain":[-239.6,1354.8],"nice":false,"zero":false}},"y":{"datum":1.986,"type":"quantitative","scale":{"domain":[-0.473,2.446],"nice":false,"zero":false}}}},
     {"data":{"values":[{"label":"E/Eo"}]},"mark":{"type":"text","align":"left","baseline":"middle","fontSize":11},
      "encoding":{"text":{"field":"label"},"x":{"datum":227,"type":"quantitative","scale":{"domain":[-239.6,1354.8],"nice":false,"zero":false}},"y":{"datum":1.986,"type":"quantitative","scale":{"domain":[-0.473,2.446],"nice":false,"zero":false}}}},
     {"data":{"values":[{"label":"cooling"}]},"mark":{"type":"text","align":"left","baseline":"middle","fontSize":11},
      "encoding":{"text":{"field":"label"},"x":{"datum":227,"type":"quantitative","scale":{"domain":[-239.6,1354.8],"nice":false,"zero":false}},"y":{"datum":1.824,"type":"quantitative","scale":{"domain":[-0.473,2.446],"nice":false,"zero":false}}}},
     {"data":{"values":[{"label":"Q-1"}]},"mark":{"type":"text","align":"left","baseline":"middle","fontSize":11},
      "encoding":{"text":{"field":"label"},"x":{"datum":577,"type":"quantitative","scale":{"domain":[-239.6,1354.8],"nice":false,"zero":false}},"y":{"datum":2.149,"type":"quantitative","scale":{"domain":[-0.473,2.446],"nice":false,"zero":false}}}},
     {"data":{"values":[{"label":"heating"}]},"mark":{"type":"text","align":"left","baseline":"middle","fontSize":11},
      "encoding":{"text":{"field":"label"},"x":{"datum":577,"type":"quantitative","scale":{"domain":[-239.6,1354.8],"nice":false,"zero":false}},"y":{"datum":1.986,"type":"quantitative","scale":{"domain":[-0.473,2.446],"nice":false,"zero":false}}}},
     {"data":{"values":[{"label":"Q-1"}]},"mark":{"type":"text","align":"left","baseline":"middle","fontSize":11},
      "encoding":{"text":{"field":"label"},"x":{"datum":577,"type":"quantitative","scale":{"domain":[-239.6,1354.8],"nice":false,"zero":false}},"y":{"datum":1.986,"type":"quantitative","scale":{"domain":[-0.473,2.446],"nice":false,"zero":false}}}},
     {"data":{"values":[{"label":"cooling"}]},"mark":{"type":"text","align":"left","baseline":"middle","fontSize":11},
      "encoding":{"text":{"field":"label"},"x":{"datum":577,"type":"quantitative","scale":{"domain":[-239.6,1354.8],"nice":false,"zero":false}},"y":{"datum":1.824,"type":"quantitative","scale":{"domain":[-0.473,2.446],"nice":false,"zero":false}}}}
    ]}
   ],
   "resolve":{"scale":{"y":"independent"}}
  },
  {"width":192,"height":216,
   "layer":[
    {"data":{"values":[{"label":"Sintered 2Y-TZP"}]},
     "mark":{"type":"text","font":"DejaVu Sans","fontWeight":"bold","fontSize":17,"color":"#ffff66","align":"left","baseline":"middle"},
     "encoding":{"text":{"field":"label"},"x":{"datum":0.078,"type":"quantitative","scale":{"domain":[0,1],"nice":false,"zero":false},"axis":null},"y":{"datum":0.884,"type":"quantitative","scale":{"domain":[0,1],"nice":false,"zero":false},"axis":null}}},
    {"data":{"values":[{"label":"Sintering PM steel"}]},
     "mark":{"type":"text","font":"DejaVu Sans","fontWeight":"bold","fontSize":17,"color":"#ffff66","align":"left","baseline":"middle"},
     "encoding":{"text":{"field":"label"},"x":{"datum":0.026,"type":"quantitative","scale":{"domain":[0,1],"nice":false,"zero":false},"axis":null},"y":{"datum":0.153,"type":"quantitative","scale":{"domain":[0,1],"nice":false,"zero":false},"axis":null}}}
   ]}
 ],"spacing":0,"bounds":"flush"},
 {"width":720,"height":36,
  "layer":[
   {"data":{"values":[{}]},"mark":{"type":"rule","stroke":"#000","strokeWidth":4},
    "encoding":{"x":{"datum":0.15,"type":"quantitative","scale":{"domain":[0,1],"nice":false,"zero":false},"axis":null},"x2":{"datum":1},"y":{"datum":0.833,"type":"quantitative","scale":{"domain":[0,1],"nice":false,"zero":false},"axis":null}}},
   {"data":{"values":[{"label":"Dept. Metallurgy and Materials Engineering, K.U.Leuven"}]},"mark":{"type":"text","font":"DejaVu Sans","fontWeight":"normal","fontSize":14,"color":"#c8c8f0","align":"right","baseline":"middle"},
    "encoding":{"text":{"field":"label"},"x":{"datum":0.9875,"type":"quantitative","scale":{"domain":[0,1],"nice":false,"zero":false},"axis":null},"y":{"datum":0.361,"type":"quantitative","scale":{"domain":[0,1],"nice":false,"zero":false},"axis":null}}}
  ]}
]
}
